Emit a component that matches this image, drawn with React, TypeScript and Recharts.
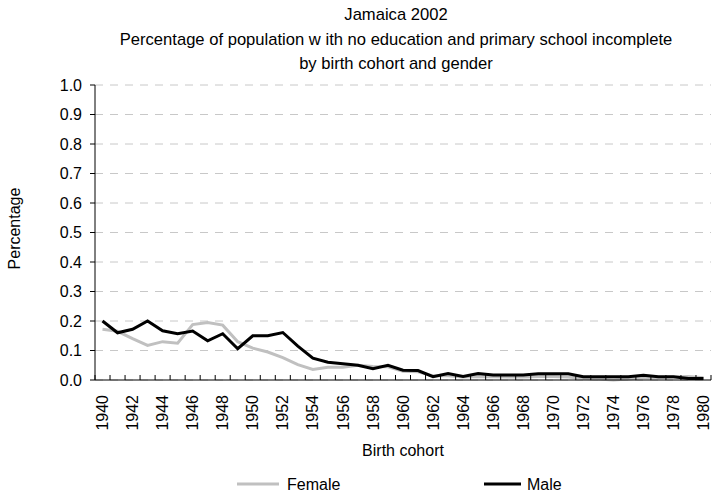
import React from 'react'
import { LineChart, Line, XAxis, YAxis, CartesianGrid, Label } from 'recharts'

// birth cohorts and shares
const years = [
  1940, 1941, 1942, 1943, 1944, 1945, 1946, 1947, 1948, 1949,
  1950, 1951, 1952, 1953, 1954, 1955, 1956, 1957, 1958, 1959,
  1960, 1961, 1962, 1963, 1964, 1965, 1966, 1967, 1968, 1969,
  1970, 1971, 1972, 1973, 1974, 1975, 1976, 1977, 1978, 1979, 1980
]

const female = [
  0.172, 0.165, 0.140, 0.117, 0.130, 0.125, 0.188, 0.195, 0.186, 0.130,
  0.108, 0.095, 0.076, 0.052, 0.036, 0.043, 0.043, 0.050, 0.046, 0.045,
  0.030, 0.028, 0.014, 0.014, 0.010, 0.012, 0.011, 0.010, 0.010, 0.012,
  0.012, 0.010, 0.005, 0.003, 0.000, 0.003, 0.008, 0.008, 0.010, 0.012, 0.008
]

const male = [
  0.200, 0.160, 0.172, 0.200, 0.167, 0.157, 0.166, 0.133, 0.157, 0.106,
  0.150, 0.150, 0.161, 0.115, 0.074, 0.060, 0.055, 0.050, 0.038, 0.050,
  0.033, 0.032, 0.011, 0.022, 0.012, 0.022, 0.017, 0.017, 0.017, 0.021,
  0.021, 0.021, 0.011, 0.011, 0.011, 0.011, 0.016, 0.011, 0.011, 0.005, 0.005
]

const yearLabels = [
  1940, 1942, 1944, 1946, 1948, 1950, 1952, 1954, 1956, 1958, 1960,
  1962, 1964, 1966, 1968, 1970, 1972, 1974, 1976, 1978, 1980
]

const yTicks = [0, 0.1, 0.2, 0.3, 0.4, 0.5, 0.6, 0.7, 0.8, 0.9, 1.0]

const titleLines = [
  'Jamaica 2002',
  'Percentage of population w ith no education and primary school incomplete',
  'by birth cohort and gender'
]

const FONT = 'Arial, "Liberation Sans", sans-serif'
const FEMALE_COLOR = '#c0c0c0'
const MALE_COLOR = '#000000'
const GRID_COLOR = '#c8c8c8'

const data = years.map((year, i) => ({ year, female: female[i], male: male[i] }))

// tick marks sit between cohorts, labels on every second cohort
const boundaries = [...years.map(y => y - 0.5), years[years.length - 1] + 0.5]
const xTicks = [...boundaries, ...yearLabels].sort((a, b) => a - b)

function YearTick(props: any) {
  const { x, y, payload } = props
  const v = payload.value
  if (Number.isInteger(v)) {
    return (
      <text
        transform={`translate(${x},${y + 15}) rotate(-90)`}
        textAnchor="end"
        dy="0.35em"
        fontSize={16}
        fontFamily={FONT}
        fill="#000"
      >
        {v}
      </text>
    )
  }
  return <line x1={x} x2={x} y1={y - 5} y2={y} stroke="#000" strokeWidth={1} />
}

export default function App() {
  return (
    <div style={{ position: 'absolute', left: 0, top: 0, width: 715, height: 497, background: '#fff' }}>
      <LineChart
        width={715}
        height={497}
        data={data}
        margin={{ top: 85, right: 4, bottom: 0, left: 0 }}
      >
        <CartesianGrid
          horizontal
          vertical={false}
          stroke={GRID_COLOR}
          strokeDasharray="8 7"
        />
        <XAxis
          dataKey="year"
          type="number"
          domain={[1939.5, 1980.5]}
          ticks={xTicks}
          interval={0}
          height={117}
          tickSize={0}
          tickMargin={0}
          tickLine={false}
          axisLine={{ stroke: '#000' }}
          tick={<YearTick />}
        >
          <Label
            content={({ viewBox }: any) => (
              <text
                x={viewBox.x + viewBox.width / 2}
                y={viewBox.y + 76}
                textAnchor="middle"
                fontSize={16}
                fontFamily={FONT}
                fill="#000"
              >
                Birth cohort
              </text>
            )}
          />
        </XAxis>
        <YAxis
          domain={[0, 1]}
          ticks={yTicks}
          interval={0}
          width={95}
          tickSize={5}
          tickMargin={8}
          tickFormatter={(v: number) => v.toFixed(1)}
          tick={{ fill: '#000', fontSize: 16, fontFamily: FONT }}
          tickLine={{ stroke: '#000' }}
          axisLine={{ stroke: '#000' }}
        >
          <Label
            content={({ viewBox }: any) => (
              <text
                transform={`translate(${viewBox.x + 20},${viewBox.y + viewBox.height / 2 - 4}) rotate(-90)`}
                textAnchor="middle"
                fontSize={16}
                fontFamily={FONT}
                fill="#000"
              >
                Percentage
              </text>
            )}
          />
        </YAxis>
        <Line
          type="linear"
          dataKey="female"
          name="Female"
          stroke={FEMALE_COLOR}
          strokeWidth={3}
          dot={false}
          isAnimationActive={false}
        />
        <Line
          type="linear"
          dataKey="male"
          name="Male"
          stroke={MALE_COLOR}
          strokeWidth={3}
          dot={false}
          isAnimationActive={false}
        />
      </LineChart>

      <svg
        width={715}
        height={497}
        style={{ position: 'absolute', left: 0, top: 0, pointerEvents: 'none' }}
      >
        {titleLines.map((t, i) => (
          <text
            key={t}
            x={396}
            y={20 + i * 24.5}
            textAnchor="middle"
            fontSize={16.6}
            fontFamily={FONT}
            fill="#000"
          >
            {t}
          </text>
        ))}
        <line x1={237} x2={279} y1={484} y2={484} stroke={FEMALE_COLOR} strokeWidth={3} />
        <text x={287} y={490} fontSize={16} fontFamily={FONT} fill="#000">Female</text>
        <line x1={484} x2={521} y1={484} y2={484} stroke={MALE_COLOR} strokeWidth={3} />
        <text x={527} y={490} fontSize={16} fontFamily={FONT} fill="#000">Male</text>
      </svg>
    </div>
  )
}
